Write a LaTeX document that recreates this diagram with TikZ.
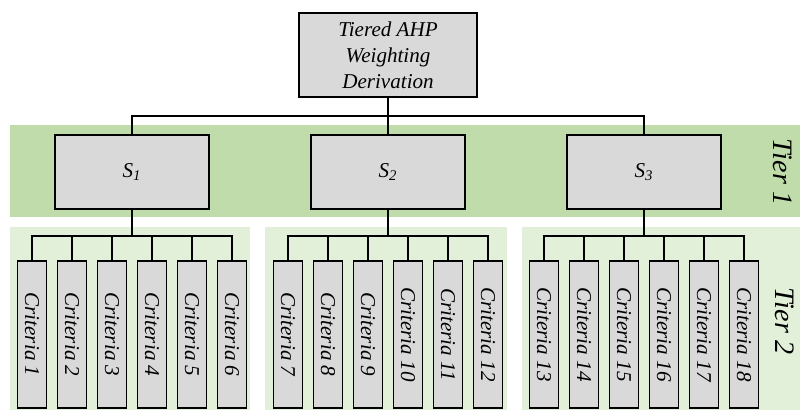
\documentclass[tikz,border=0pt]{standalone}
\usepackage{fontspec}
\setmainfont{Liberation Serif}
\usetikzlibrary{calc}

\definecolor{tierone}{HTML}{C0DCAA}
\definecolor{tiertwo}{HTML}{E2EFD9}
\definecolor{boxgray}{HTML}{D9D9D9}

\begin{document}
\begin{tikzpicture}[x=0.025cm,y=-0.025cm,
        box/.style={draw,line width=1.2pt,fill=boxgray,inner sep=2pt,align=center,
            font=\fontsize{15}{18.5}\selectfont\itshape},
        critbox/.style={box,rotate=-90,minimum width=3.675cm,minimum height=0.725cm},
        tierlabel/.style={rotate=-90,font=\fontsize{20}{24}\selectfont\itshape},
        link/.style={line width=1.4pt}]
            \useasboundingbox (0,0) rectangle (800,410);
            \clip (0,0) rectangle (800,410);

            % tier bands
            \fill[tierone] (10,125) rectangle (800,217);
            \fill[tiertwo] (10,227) rectangle (250,410);
            \fill[tiertwo] (265,227) rectangle (507,410);
            \fill[tiertwo] (522,227) rectangle (800,410);

            \node[box,minimum width=4.45cm,minimum height=2.1cm] (top) at (388,55) {Tiered AHP\\Weighting\\Derivation};
            \coordinate (bus) at (388,116);
            \draw[link] (top.south) -- (bus);

            \foreach[evaluate={\x=132+256*(\i-1)}] \i in {1,2,3} {
                \node[box,minimum width=3.85cm,minimum height=1.85cm] (s\i) at (\x,172) {S\textsubscript{\i}};
                \draw[link] (s\i.north) |- (bus);
                \coordinate (b\i) at (\x,236);
                \draw[link] (s\i.south) -- (b\i);
                \foreach[evaluate={int(6*(\i-1)+\j)} as \k] \j in {1,...,6} {
                    \node[critbox] (c\k) at (\x-100+40*\j-40,334.5) {Criteria \k};
                    \draw[link] (c\k.west) |- (b\i);
                }
            }

            \node[tierlabel] (t1) at (783,172) {Tier 1};
            \node[tierlabel] (t2) at (785,321) {Tier 2};
        \end{tikzpicture}
\end{document}
